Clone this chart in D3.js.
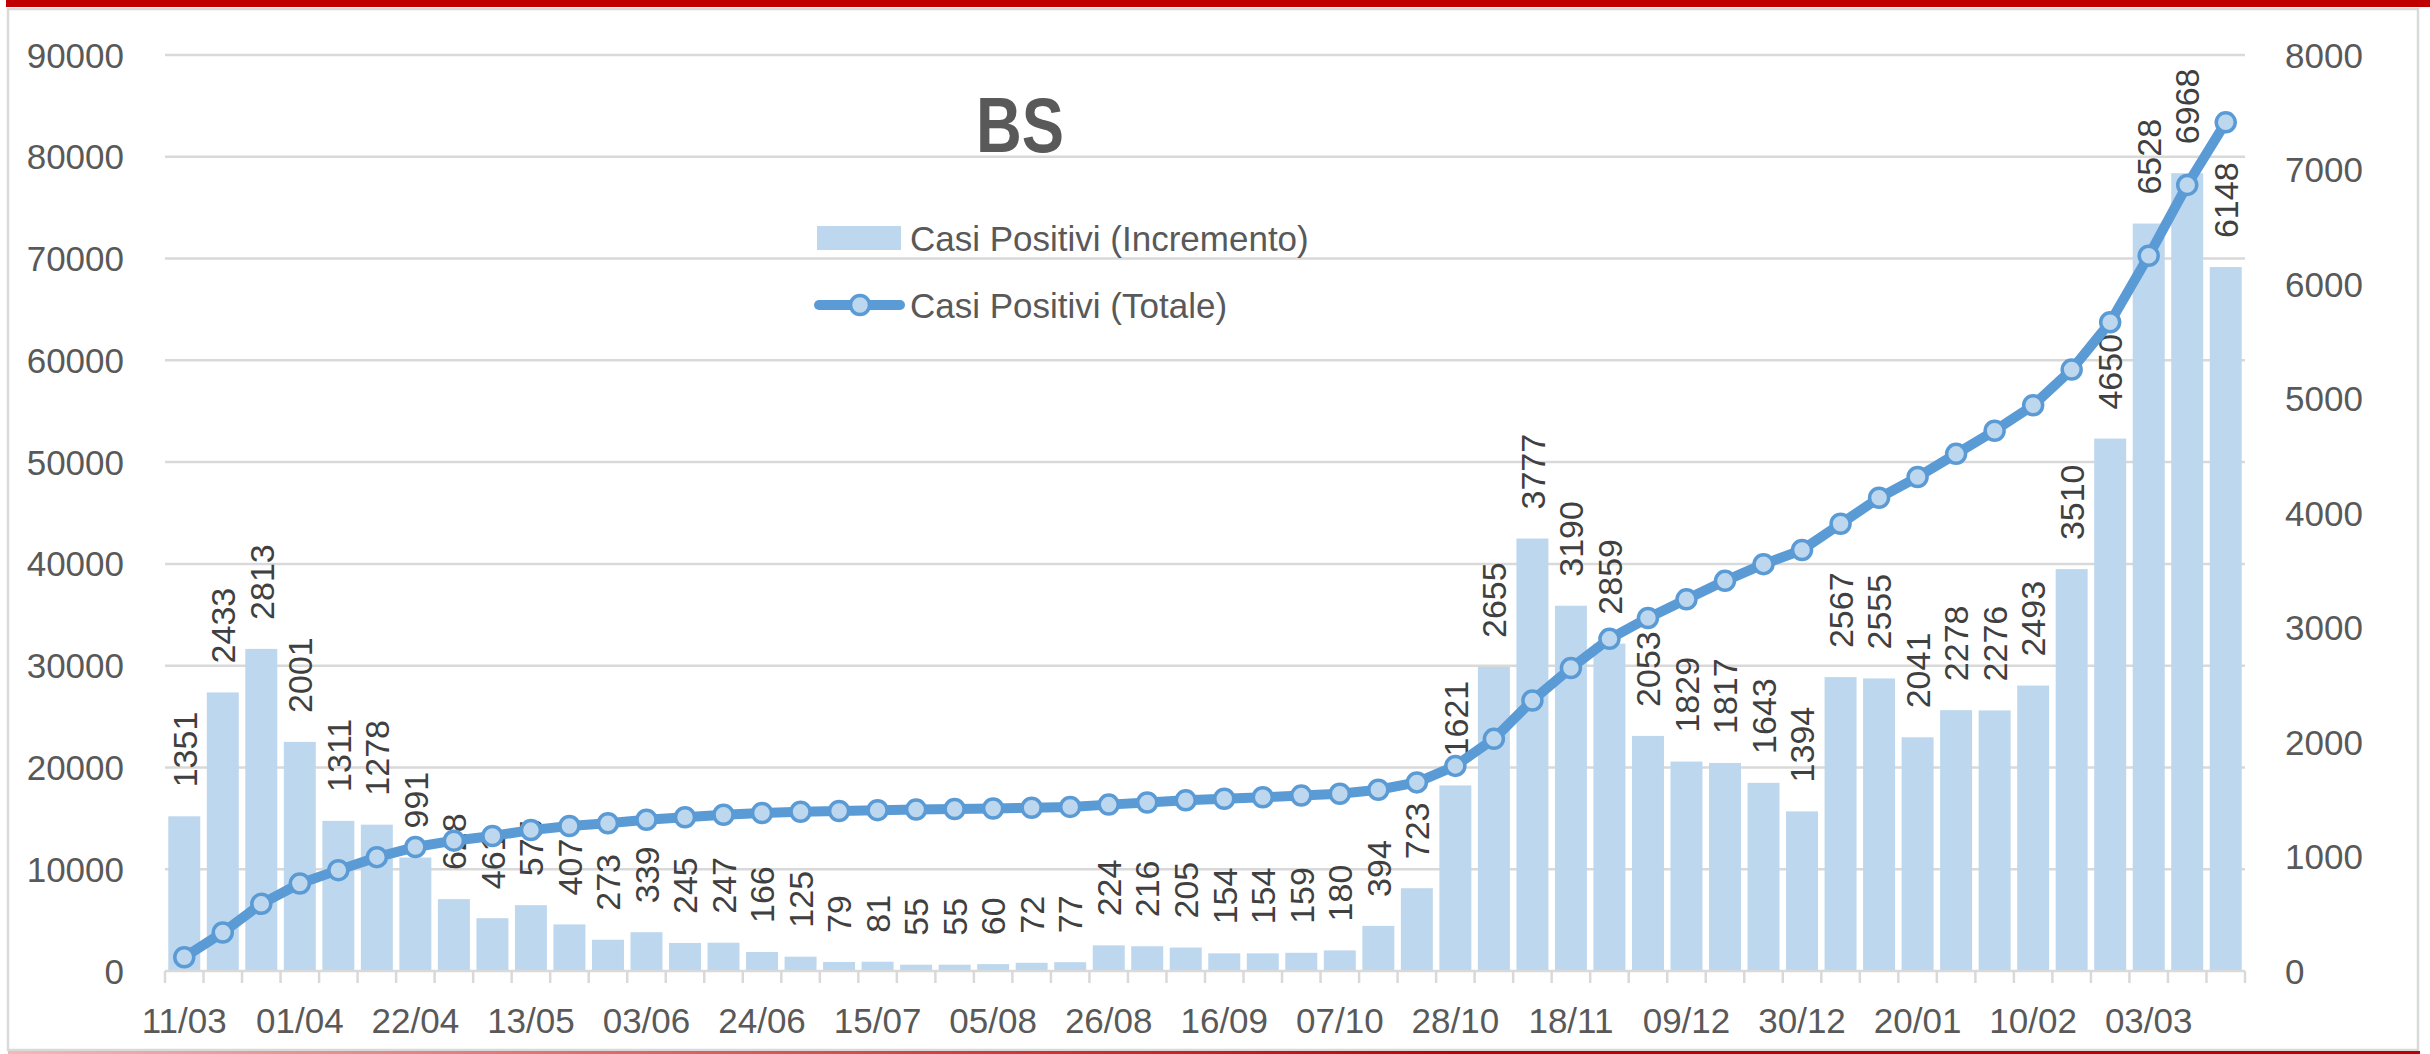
<!DOCTYPE html>
<html>
<head>
<meta charset="utf-8">
<script src="https://cdn.jsdelivr.net/npm/d3@7"></script>
<style>
  body { margin: 0; background: #fff; }
  svg { display: block; font-family: "Liberation Sans", Arial, sans-serif; }
</style>
</head>
<body>
<div id="chart"></div>
<script>
// weekly dates (Wednesday)
var weeks = ["11/03","18/03","25/03","01/04","08/04","15/04","22/04","29/04","06/05","13/05",
  "20/05","27/05","03/06","10/06","17/06","24/06","01/07","08/07","15/07","22/07",
  "29/07","05/08","12/08","19/08","26/08","02/09","09/09","16/09","23/09","30/09",
  "07/10","14/10","21/10","28/10","04/11","11/11","18/11","25/11","02/12","09/12",
  "16/12","23/12","30/12","06/01","13/01","20/01","27/01","03/02","10/02","17/02",
  "24/02","03/03","10/03","17/03"];

// Casi Positivi (Incremento) - right axis
var increments = [1351,2433,2813,2001,1311,1278,991,628,461,575,
  407,273,339,245,247,166,125,79,81,55,
  55,60,72,77,224,216,205,154,154,159,
  180,394,723,1621,2655,3777,3190,2859,2053,1829,
  1817,1643,1394,2567,2555,2041,2278,2276,2493,3510,
  4650,6528,6968,6148];

// Casi Positivi (Totale) - left axis
var totals = [1351,3784,6597,8598,9909,11187,12178,12806,13267,13842,
  14249,14522,14861,15106,15353,15519,15644,15723,15804,15859,
  15914,15974,16046,16123,16347,16563,16768,16922,17076,17235,
  17415,17809,18532,20153,22808,26585,29775,32634,34687,36516,
  38333,39976,41370,43937,46492,48533,50811,53087,55580,59090,
  63740,70268,77236,83384];

var leftTicks = [0,10000,20000,30000,40000,50000,60000,70000,80000,90000];
var rightTicks = [0,1000,2000,3000,4000,5000,6000,7000,8000];

var W = 2430, H = 1054;
var plot = {left: 165, right: 2245, top: 55, bottom: 971};
var barColor = "#BDD7EE", lineColor = "#5B9BD5", grid = "#D9D9D9", axisText = "#595959";

var svg = d3.select("#chart").append("svg").attr("width", W).attr("height", H);

// outer frame + red bars
svg.append("rect").attr("x", 8).attr("y", 9).attr("width", 2410).attr("height", 1041)
  .attr("fill", "none").attr("stroke", grid).attr("stroke-width", 2.5);
svg.append("rect").attr("x", 6).attr("y", 0).attr("width", W - 6).attr("height", 7).attr("fill", "#C00000");
var grad = svg.append("defs").append("linearGradient").attr("id", "bred");
grad.append("stop").attr("offset", "0%").attr("stop-color", "#F2B8B8");
grad.append("stop").attr("offset", "60%").attr("stop-color", "#C00000");
svg.append("rect").attr("x", 8).attr("y", 1051).attr("width", 2412).attr("height", 3).attr("fill", "url(#bred)");

var x = d3.scaleBand().domain(d3.range(weeks.length)).range([plot.left, plot.right])
  .paddingInner(0.17).paddingOuter(0.085);
var step = x.step();
var yL = d3.scaleLinear().domain([0, 90000]).range([plot.bottom, plot.top]);
var yR = d3.scaleLinear().domain([0, 8000]).range([plot.bottom, plot.top]);

// gridlines
svg.append("g").selectAll("line").data(leftTicks.slice(1)).join("line")
  .attr("x1", plot.left).attr("x2", plot.right)
  .attr("y1", function(d){ return yL(d); }).attr("y2", function(d){ return yL(d); })
  .attr("stroke", grid).attr("stroke-width", 2.5);

// left axis labels
svg.append("g").selectAll("text").data(leftTicks).join("text")
  .attr("x", 124).attr("y", function(d){ return yL(d); }).attr("dy", "0.36em")
  .attr("text-anchor", "end").attr("font-size", 35).attr("fill", axisText)
  .text(function(d){ return d; });

// right axis labels
svg.append("g").selectAll("text").data(rightTicks).join("text")
  .attr("x", 2285).attr("y", function(d){ return yR(d); }).attr("dy", "0.36em")
  .attr("text-anchor", "start").attr("font-size", 35).attr("fill", axisText)
  .text(function(d){ return d; });

// bars
svg.append("g").selectAll("rect").data(increments).join("rect")
  .attr("x", function(d, i){ return x(i); })
  .attr("width", x.bandwidth())
  .attr("y", function(d){ return yR(d); })
  .attr("height", function(d){ return plot.bottom - yR(d); })
  .attr("fill", barColor);

// x axis line + ticks
var xAxis = svg.append("g");
xAxis.append("line").attr("x1", plot.left).attr("x2", plot.right)
  .attr("y1", plot.bottom).attr("y2", plot.bottom).attr("stroke", grid).attr("stroke-width", 2.5);
xAxis.selectAll("line.tk").data(d3.range(weeks.length + 1)).join("line").attr("class", "tk")
  .attr("x1", function(i){ return plot.left + i * step; })
  .attr("x2", function(i){ return plot.left + i * step; })
  .attr("y1", plot.bottom).attr("y2", plot.bottom + 12)
  .attr("stroke", grid).attr("stroke-width", 2.5);
xAxis.selectAll("text").data(weeks.filter(function(d, i){ return i % 3 === 0; })).join("text")
  .attr("x", function(d, i){ return x(i * 3) + x.bandwidth() / 2; })
  .attr("y", 1033).attr("text-anchor", "middle").attr("font-size", 35).attr("fill", axisText)
  .text(function(d){ return d; });

// bar value labels (rotated)
svg.append("g").selectAll("text").data(increments).join("text")
  .attr("transform", function(d, i){
    return "translate(" + (x(i) + x.bandwidth() / 2) + "," + (yR(d) - 29) + ") rotate(-90)";
  })
  .attr("dy", "0.36em").attr("text-anchor", "start").attr("font-size", 34).attr("fill", "#404040")
  .text(function(d){ return d; });

// total line
var line = d3.line()
  .x(function(d, i){ return x(i) + x.bandwidth() / 2; })
  .y(function(d){ return yL(d); });
svg.append("path").datum(totals).attr("d", line)
  .attr("fill", "none").attr("stroke", lineColor).attr("stroke-width", 10)
  .attr("stroke-linejoin", "round");
svg.append("g").selectAll("circle").data(totals).join("circle")
  .attr("cx", function(d, i){ return x(i) + x.bandwidth() / 2; })
  .attr("cy", function(d){ return yL(d); })
  .attr("r", 9.5).attr("fill", barColor).attr("stroke", lineColor).attr("stroke-width", 3.5);

// title
svg.append("text").attr("x", 1020).attr("y", 152).attr("text-anchor", "middle")
  .attr("font-size", 78).attr("font-weight", "bold").attr("fill", axisText)
  .attr("textLength", 88).attr("lengthAdjust", "spacingAndGlyphs")
  .text("BS");

// legend
var lg = svg.append("g");
lg.append("rect").attr("x", 817).attr("y", 226).attr("width", 84).attr("height", 24).attr("fill", barColor);
lg.append("text").attr("x", 910).attr("y", 238).attr("dy", "0.36em")
  .attr("font-size", 35).attr("fill", axisText).text("Casi Positivi (Incremento)");
lg.append("line").attr("x1", 819).attr("x2", 900).attr("y1", 305).attr("y2", 305)
  .attr("stroke", lineColor).attr("stroke-width", 10).attr("stroke-linecap", "round");
lg.append("circle").attr("cx", 860).attr("cy", 305).attr("r", 9.5)
  .attr("fill", barColor).attr("stroke", lineColor).attr("stroke-width", 3.5);
lg.append("text").attr("x", 910).attr("y", 305).attr("dy", "0.36em")
  .attr("font-size", 35).attr("fill", axisText).text("Casi Positivi (Totale)");
</script>
</body>
</html>
